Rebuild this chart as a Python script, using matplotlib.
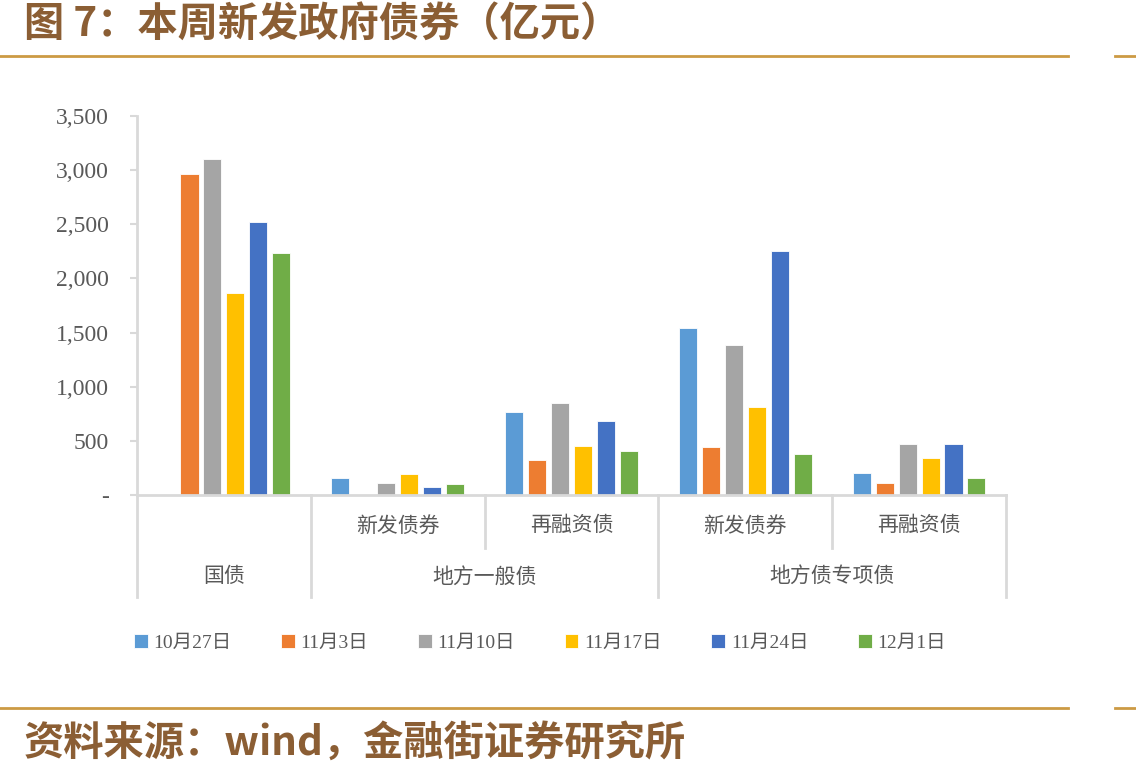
import matplotlib.pyplot as plt
from matplotlib.lines import Line2D
from matplotlib.ticker import FuncFormatter

plt.rcParams['font.family'] = ['Liberation Serif', 'Noto Sans CJK SC', 'DejaVu Sans']

# 数据（亿元），按 国债 / 一般债-新发 / 一般债-再融资 / 专项债-新发 / 专项债-再融资
groups = ['国债', '新发债券', '再融资债', '新发债券', '再融资债']
weeks = ['10月27日', '11月3日', '11月10日', '11月17日', '11月24日', '12月1日']
v1027 = [0, 157, 766, 1542, 200]
v1103 = [2964, 0, 323, 440, 111]
v1110 = [3103, 111, 850, 1385, 468]
v1117 = [1865, 194, 452, 813, 342]
v1124 = [2521, 74, 683, 2253, 471]
v1201 = [2235, 102, 406, 379, 157]
series = [v1027, v1103, v1110, v1117, v1124, v1201]
colors = ['#5B9BD5', '#ED7D31', '#A5A5A5', '#FFC000', '#4472C4', '#70AD47']
top_labels = [('国债', 0, 1), ('地方一般债', 1, 3), ('地方债专项债', 3, 5)]

fig = plt.figure(figsize=(11.36, 7.77), dpi=100)
ax = fig.add_axes([137/1136, 1-495/777, 869/1136, 379/777])

pitch = 0.132
width = 0.104
for i, (vals, c, lab) in enumerate(zip(series, colors, weeks)):
    xs = [g + 0.5 + (i - 2.5) * pitch for g in range(len(groups))]
    ax.bar(xs, vals, width=width, color=c, edgecolor='white', linewidth=0.6, label=lab)

ax.set_xlim(0, 5)
ax.set_ylim(0, 3500)
ax.set_yticks(range(0, 3501, 500))
ax.yaxis.set_major_formatter(FuncFormatter(lambda v, p: '-' if v == 0 else f'{int(v):,}'))
ax.tick_params(axis='y', colors='#D9D9D9', labelcolor='#595959', labelsize=17,
               length=5, width=1.5, pad=15)
ax.set_xticks([])
for s in ['top', 'right']:
    ax.spines[s].set_visible(False)
for s in ['left', 'bottom']:
    ax.spines[s].set_color('#D9D9D9')
    ax.spines[s].set_linewidth(2)

# 多级分类轴
tr = ax.get_xaxis_transform()
row1 = -0.14
row2 = -0.269
for x in [0, 1, 3, 5]:
    ax.plot([x, x], [0, row2], transform=tr, color='#D9D9D9', lw=2, clip_on=False)
for x in [2, 4]:
    ax.plot([x, x], [0, row1], transform=tr, color='#D9D9D9', lw=2, clip_on=False)
cjk = ['Noto Sans CJK SC', 'DejaVu Sans']
for g in range(1, 5):
    ax.text(g + 0.5, row1 / 2 - 0.01, groups[g], transform=tr, ha='center', va='center',
            fontsize=15, color='#595959', family=cjk, fontweight='light')
for name, a, b in top_labels:
    ax.text((a + b) / 2, (row1 + row2) / 2 - 0.01, name, transform=tr, ha='center', va='center',
            fontsize=15, color='#595959', family=cjk, fontweight='light')

fig.legend(loc='center', bbox_to_anchor=(540/1136, 1-643/777), ncol=6, frameon=False,
           fontsize=14, handlelength=0.7, handleheight=0.7, handletextpad=0.3,
           columnspacing=2.55, labelcolor='#595959')

brown = '#8B5E34'
gold = '#CC9A44'
fig.text(24/1136, 1-25/777, '图 7：本周新发政府债券（亿元）', fontsize=29, fontweight='bold',
         color=brown, va='center', ha='left', family=cjk)
fig.text(24/1136, 1-743/777, '资料来源：wind，金融街证券研究所', fontsize=29, fontweight='bold',
         color=brown, va='center', ha='left', family=cjk)
for y in [56, 708]:
    fig.add_artist(Line2D([0, 1068/1136], [1-y/777, 1-y/777], color=gold, lw=2))
    fig.add_artist(Line2D([1115/1136, 1], [1-y/777, 1-y/777], color=gold, lw=2))

fig.savefig('out.png', dpi=100)
